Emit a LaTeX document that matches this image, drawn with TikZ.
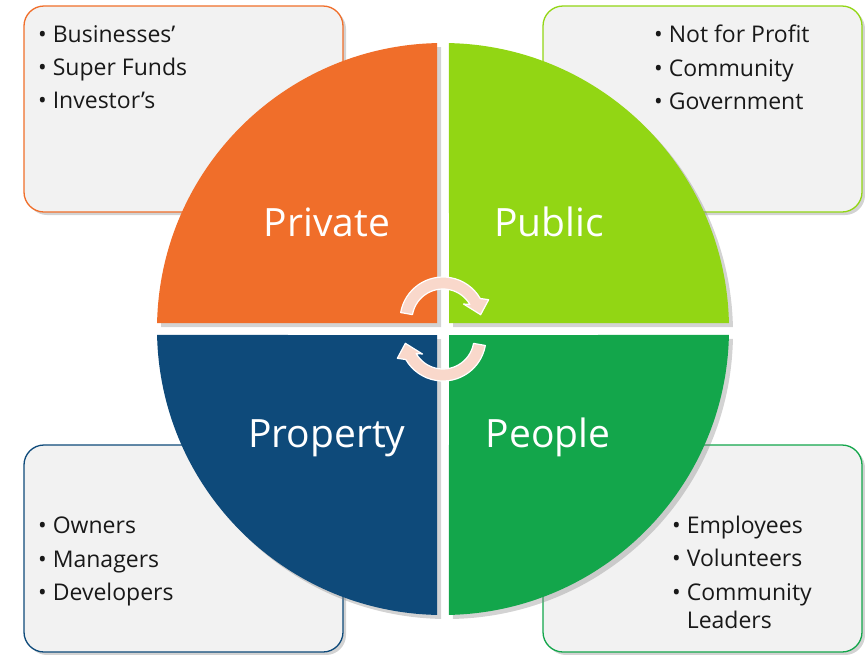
\documentclass[tikz,border=0pt]{standalone}
\usepackage{fontspec}
\setmainfont{Open Sans}
\usetikzlibrary{shadows}
\definecolor{privorange}{RGB}{240,110,42}
\definecolor{publime}{RGB}{146,214,20}
\definecolor{propblue}{RGB}{14,74,122}
\definecolor{peopgreen}{RGB}{19,166,75}
\definecolor{boxgray}{RGB}{242,242,242}
\definecolor{arrowpink}{RGB}{249,216,203}
\tikzset{
  listbox/.style={fill=boxgray, line width=1.3pt, rounded corners=20pt,
    drop shadow={shadow xshift=3pt, shadow yshift=-3pt, opacity=.35}},
  quarter/.style={drop shadow={shadow xshift=4pt, shadow yshift=-4pt, opacity=.35}},
  quartlabel/.style={anchor=base, text=white, inner sep=0pt, font=\fontsize{39}{41}\selectfont},
  itemlist/.style={anchor=north west, align=left, inner sep=0pt, text=black!90,
    font=\fontsize{23}{28}\selectfont},
  turnarrow/.style={fill=arrowpink, draw=white, line width=1.2pt, line join=round}
}
\begin{document}
\begin{tikzpicture}[x=1pt,y=1pt]
	\useasboundingbox (0,0) rectangle (865,-654);
	% list boxes behind the circle
	\draw [listbox, draw=privorange] (24,-6) rectangle (343,-212);
	\draw [listbox, draw=publime] (543,-6) rectangle (862,-212);
	\draw [listbox, draw=propblue] (24,-445) rectangle (343,-652);
	\draw [listbox, draw=peopgreen] (543,-445) rectangle (862,-652);
	\node [itemlist] (privlist) at (38,-25) {• Businesses’\\[5.3pt]• Super Funds\\[5.3pt]• Investor’s};
	\node [itemlist] (publist) at (654,-25) {• Not for Profit\\[5.3pt]• Community\\[5.3pt]• Government};
	\node [itemlist] (proplist) at (38,-517) {• Owners\\[5.3pt]• Managers\\[5.3pt]• Developers};
	\node [itemlist] (peoplist) at (672,-516) {• Employees\\[5.3pt]• Volunteers\\[5.3pt]• Community\\\hphantom{• }Leaders};
	% the four quarters
	\begin{scope}[shift={(443,-329)}]
	\fill [privorange, quarter] (91.2:286) arc [start angle=91.2, end angle=178.8, radius=286] -- (-6,6) -- cycle;
	\fill [publime, quarter] (1.2:286) arc [start angle=1.2, end angle=88.8, radius=286] -- (6,6) -- cycle;
	\fill [propblue, quarter] (181.2:286) arc [start angle=181.2, end angle=268.8, radius=286] -- (-6,-6) -- cycle;
	\fill [peopgreen, quarter] (271.2:286) arc [start angle=271.2, end angle=358.8, radius=286] -- (6,-6) -- cycle;
	\end{scope}
	\node [quartlabel] (private) at (327,-236) {Private};
	\node [quartlabel] (public) at (549,-236) {Public};
	\node [quartlabel] (property) at (327,-447) {Property};
	\node [quartlabel] (people) at (548,-447) {People};
	% turning arrows
	\begin{scope}[shift={(443,-320)}]
	\filldraw [turnarrow] (170:43) arc [start angle=170, end angle=30, radius=43] -- (24:50) -- (8:38) -- (38:26) -- (30:31) arc [start angle=30, end angle=170, radius=31] -- cycle;
	\end{scope}
	\begin{scope}[shift={(443,-338)}, rotate=180]
	\filldraw [turnarrow] (170:43) arc [start angle=170, end angle=30, radius=43] -- (24:50) -- (8:38) -- (38:26) -- (30:31) arc [start angle=30, end angle=170, radius=31] -- cycle;
	\end{scope}
\end{tikzpicture}
\end{document}
